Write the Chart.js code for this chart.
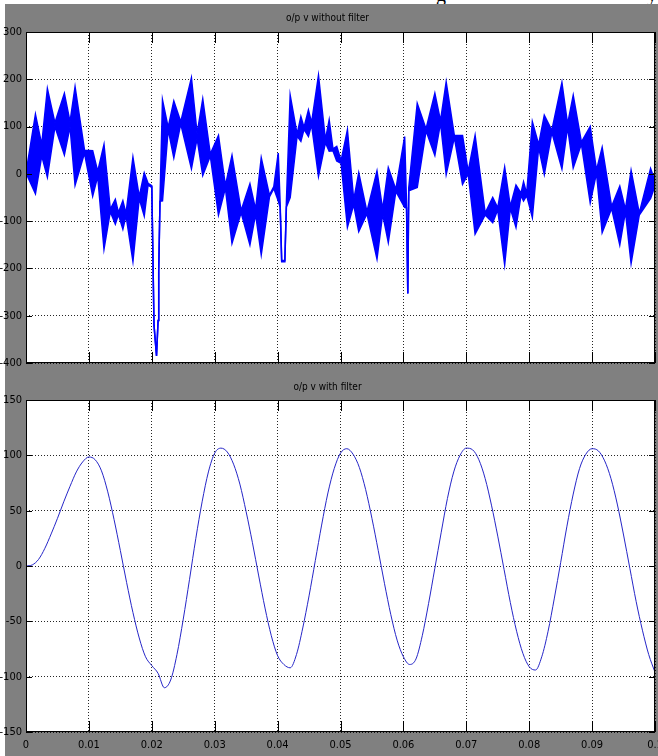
<!DOCTYPE html>
<html>
<head>
<meta charset="utf-8">
<script src="https://cdn.jsdelivr.net/npm/chart.js@4.4.0/dist/chart.umd.min.js"></script>
<style>
  html, body { margin: 0; padding: 0; background: #fff; }
  #page   { position: relative; width: 658px; height: 756px; overflow: hidden; background: #fff; }
  #figure { position: absolute; left: 5px; top: 4px; width: 653px; height: 752px; background: #808080; }
  #scrap  { position: absolute; left: 0; top: 0; width: 658px; height: 4px; overflow: hidden; }
  #scrap span { position: absolute; top: -16px; font: 20px/20px "Liberation Serif", serif; color: #000; }
  canvas  { position: absolute; left: 0; }
  #topChart { top: 0; }
  #botChart { top: 370px; }
</style>
</head>
<body>
<div id="page">
  <div id="figure"></div>
  <div id="scrap"><span style="left:436px">g</span><span style="left:647px">y</span></div>
  <canvas id="topChart" width="658" height="370"></canvas>
  <canvas id="botChart" width="658" height="386"></canvas>
</div>
<script>
  "use strict";

  /* ------------------------------------------------------------------
   * Data (time in ms, volts)
   * ------------------------------------------------------------------ */
  const topTitle = "o/p v without filter";
  const botTitle = "o/p v with filter";

  // envelope of the unfiltered PWM output: band between upper and lower
  const topTime = [
    0, 1.5, 2.5, 3.4, 4.6, 6.1, 7.0, 7.8, 9.3, 10.6, 11.4, 12.4, 13.4, 14.2, 14.7, 15.4, 15.9, 17.0, 18.0, 18.8, 19.4, 19.9,
    20.0, 20.15, 20.35, 20.75, 21.0, 21.1, 21.3,
    21.7, 22.6, 23.5, 24.6, 26.3, 27.2, 28.1, 29.3, 30.6, 31.7, 32.75, 34.2, 35.6, 36.5, 37.4, 38.7, 39.4, 40.1,
    40.4, 40.65, 41.15, 41.4,
    42.0, 43.1, 43.7, 44.2, 44.9, 45.4, 46.5, 47.6, 48.2, 48.8, 49.4, 50.1, 51.1, 52.1, 52.9, 54.2, 55.8, 56.7, 57.6, 58.8, 60.2,
    60.5, 60.7, 60.85,
    62.2, 63.6, 65.0, 65.9, 66.8, 68.1, 69.4, 70.3, 71.4, 73.0, 74.2, 75.0, 76.1, 77.0, 77.9, 78.7, 79.1, 79.6,
    80.5, 81.5, 82.4, 83.6, 85.2, 86.1, 87.0, 88.3, 89.7, 90.7, 91.6, 93.1, 94.4, 95.3, 96.2, 97.5, 99.3, 100
  ];
  const topUpper = [
    2, 126, 62, 180, 108, 170, 110, 184, 50, 49, 5, 62, -75, -54, -82, -57, -84, 35, -48, 2, -20, -24,
    -26, -150, -320, -385, -310, -206, -58,
    156, 98, 154, 110, 203, 85, 158, 42, 81, -25, 39, -78, -21, -75, 34, -45, -27, 44,
    -60, -183, -183, -60,
    166, 84, 121, 98, 135, 108, 208, 72, 114, 53, 58, 28, 93, -55, 2, -80, 6, -75, 13, -33, 79,
    -65, -253, -30,
    149, 95, 170, 112, 194, 81, 81, 5, 81, -83, -50, -72, 14, -69, -24, -41, -17, -42,
    110, 62, 124, 92, 193, 105, 166, 67, 100, 8, 56, -69, -26, -75, 7, -83, 11, -15
  ];
  const topLower = [
    2, -42, 38, -7, 100, 40, 100, -24, 44, -47, -5, -159, -80, -106, -86, -117, -88, -185, -52, -89, -24, -28,
    -26, -150, -320, -385, -310, -206, -58,
    -57, 94, 34, 106, 11, 75, -3, 38, -87, -30, -147, -82, -150, -85, -171, -49, -31, -57,
    -70, -186, -186, -70,
    -50, 80, 69, 94, 79, 104, -5, 66, 48, 49, 27, 22, -113, -65, -122, -84, -180, -85, -145, -37, -71,
    -72, -253, -36,
    -29, 91, 39, 108, -1, 77, -22, 0, -127, -87, -103, -76, -192, -73, -113, -45, -57, -46,
    -92, 56, -1, 88, 11, 99, 13, 63, -61, 2, -124, -73, -150, -80, -189, -87, -52, -25
  ];

  // filtered output, one reading per ms
  const botTime = [
    0, 1, 2, 3, 4, 5, 6, 7, 8, 9,
    10, 11, 12, 13, 14, 15, 16, 17, 18, 19,
    20, 21, 22, 23, 24, 25, 26, 27, 28, 29,
    30, 31, 32, 33, 34, 35, 36, 37, 38, 39,
    40, 41, 42, 43, 44, 45, 46, 47, 48, 49,
    50, 51, 52, 53, 54, 55, 56, 57, 58, 59,
    60, 61, 62, 63, 64, 65, 66, 67, 68, 69,
    70, 71, 72, 73, 74, 75, 76, 77, 78, 79,
    80, 81, 82, 83, 84, 85, 86, 87, 88, 89,
    90, 91, 92, 93, 94, 95, 96, 97, 98, 99,
    100
  ];
  const botVolts = [
    0, 1, 6, 16, 29, 43, 58, 72, 85, 94,
    98.5, 96, 86, 67, 42, 14, -15, -42, -65, -82,
    -90, -97, -110, -103, -80, -48, -12, 25, 58, 85,
    102, 106.5, 103, 92, 74, 49, 21, -9, -38, -63,
    -81, -89, -92, -80, -56, -27, 5, 37, 66, 88,
    102, 106, 101, 89, 69, 43, 14, -16, -44, -67,
    -82, -89, -84, -63, -34, -2, 30, 61, 85, 100,
    106.5, 105, 96, 79, 55, 27, -3, -33, -59, -79,
    -91, -94, -82, -59, -29, 3, 36, 65, 88, 101,
    106, 104, 95, 79, 56, 28, -2, -32, -58, -80,
    -96
  ];

  const topYTicks = { min: -400, max: 300, step: 100 };
  const botYTicks = { min: -150, max: 150, step: 50 };
  const xTicks    = { min: 0, max: 0.1, step: 0.01 };

  /* ------------------------------------------------------------------
   * Style
   * ------------------------------------------------------------------ */
  const FONT   = "'Liberation Sans Narrow', 'DejaVu Sans Condensed', 'Liberation Sans', sans-serif";
  const BLUE   = "#0000ff";
  const NAVY   = "#2626c8";

  function _points(times, values) {
    return values.map(function (v, i) { return { x: times[i] / 1000, y: v }; });
  }

  // white axes box, solid frame and MATLAB-style inward ticks on all four sides
  const matlabAxes = {
    id: "matlabAxes",
    beforeDraw: function (chart) {
      const a = chart.chartArea, ctx = chart.ctx;
      ctx.save();
      ctx.fillStyle = "#fff";
      ctx.fillRect(a.left, a.top, a.right - a.left, a.bottom - a.top);
      ctx.restore();
    },
    afterDraw: function (chart) {
      const a = chart.chartArea, ctx = chart.ctx;
      const xs = chart.scales.x, ys = chart.scales.y;
      ctx.save();
      ctx.strokeStyle = "#000";
      ctx.lineWidth = 1;
      ctx.beginPath();
      xs.ticks.forEach(function (t) {
        const px = Math.round(xs.getPixelForValue(t.value)) + 0.5;
        ctx.moveTo(px, a.top);    ctx.lineTo(px, a.top + 11);
        ctx.moveTo(px, a.bottom); ctx.lineTo(px, a.bottom - 11);
      });
      ys.ticks.forEach(function (t) {
        const py = Math.round(ys.getPixelForValue(t.value)) + 0.5;
        ctx.moveTo(a.left, py);  ctx.lineTo(a.left + 6, py);
        ctx.moveTo(a.right, py); ctx.lineTo(a.right - 6, py);
      });
      ctx.stroke();
      ctx.strokeRect(Math.round(a.left) + 0.5, Math.round(a.top) + 0.5,
                     Math.round(a.right - a.left) - 1, Math.round(a.bottom - a.top) - 1);
      ctx.restore();
    }
  };

  function _options(title, titlePad, yT, xHeight, showXLabels) {
    return {
      responsive: false,
      animation: false,
      devicePixelRatio: 1,
      layout: { padding: { left: 0, right: 3, top: 0, bottom: 0 } },
      plugins: {
        legend:  { display: false },
        tooltip: { enabled: false },
        title: {
          display: true,
          text: title,
          color: "#000",
          font: { family: FONT, size: 10, weight: "normal", lineHeight: 1 },
          padding: titlePad
        }
      },
      scales: {
        x: {
          type: "linear",
          min: xTicks.min,
          max: xTicks.max,
          ticks: {
            display: showXLabels,
            stepSize: xTicks.step,
            color: "#000",
            padding: 7,
            maxRotation: 0,
            autoSkip: false,
            font: { family: FONT, size: 11 },
            callback: function (v) { return String(+v.toFixed(2)); }
          },
          grid:   { color: "rgba(0,0,0,0.85)", lineWidth: 1, drawTicks: false },
          border: { display: false, dash: [1, 2] },
          afterFit: function (s) { s.height = xHeight; s.paddingLeft = 0; s.paddingRight = 0; }
        },
        y: {
          min: yT.min,
          max: yT.max,
          ticks: {
            stepSize: yT.step,
            color: "#000",
            padding: 4,
            font: { family: FONT, size: 11 },
            callback: function (v) { return String(v); }
          },
          grid:   { color: "rgba(0,0,0,0.85)", lineWidth: 1, drawTicks: false },
          border: { display: false, dash: [1, 2] },
          afterFit: function (s) { s.width = 26; s.paddingTop = 0; s.paddingBottom = 0; }
        }
      }
    };
  }

  /* ------------------------------------------------------------------
   * Charts
   * ------------------------------------------------------------------ */
  new Chart(document.getElementById("topChart").getContext("2d"), {
    type: "line",
    data: {
      datasets: [{
        data: _points(topTime, topUpper),
        borderColor: BLUE,
        borderWidth: 1.5,
        pointRadius: 0,
        tension: 0,
        fill: false
      }, {
        data: _points(topTime, topLower),
        borderColor: BLUE,
        backgroundColor: BLUE,
        borderWidth: 1.5,
        pointRadius: 0,
        tension: 0,
        fill: "-1"
      }]
    },
    options: _options(topTitle, { top: 13, bottom: 9 }, topYTicks, 7, false),
    plugins: [matlabAxes]
  });

  new Chart(document.getElementById("botChart").getContext("2d"), {
    type: "line",
    data: {
      datasets: [{
        data: _points(botTime, botVolts),
        borderColor: NAVY,
        borderWidth: 1,
        pointRadius: 0,
        cubicInterpolationMode: "monotone",
        fill: false
      }]
    },
    options: _options(botTitle, { top: 12, bottom: 8 }, botYTicks, 24, true),
    plugins: [matlabAxes]
  });
</script>
</body>
</html>
